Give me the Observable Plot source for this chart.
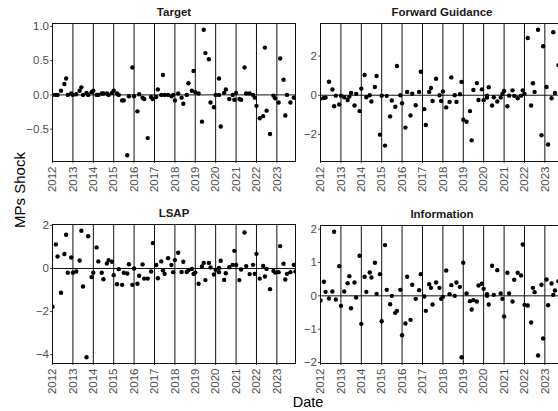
<!DOCTYPE html>
<html><head><meta charset="utf-8">
<script src="https://cdn.jsdelivr.net/npm/d3@7"></script>
<script src="https://cdn.jsdelivr.net/npm/@observablehq/plot@0.6"></script>
<style>
html,body{margin:0;padding:0;background:#fff;overflow:hidden;}
#fig{position:relative;width:566px;height:411px;font-family:"Liberation Sans",Arial,sans-serif;}
#fig > svg{position:absolute;}
</style></head><body><div id="fig"></div>
<script>
// FOMC meeting months (2020 includes the unscheduled March meeting)
const meetingMonths = [
 "2012-01","2012-03","2012-04","2012-06","2012-08","2012-09","2012-10","2012-12",
 "2013-01","2013-03","2013-05","2013-06","2013-07","2013-09","2013-10","2013-12",
 "2014-01","2014-03","2014-04","2014-06","2014-07","2014-09","2014-10","2014-12",
 "2015-01","2015-03","2015-04","2015-06","2015-07","2015-09","2015-10","2015-12",
 "2016-01","2016-03","2016-04","2016-06","2016-07","2016-09","2016-11","2016-12",
 "2017-02","2017-03","2017-05","2017-06","2017-07","2017-09","2017-11","2017-12",
 "2018-01","2018-03","2018-05","2018-06","2018-08","2018-09","2018-11","2018-12",
 "2019-01","2019-03","2019-05","2019-06","2019-07","2019-09","2019-10","2019-12",
 "2020-01","2020-03","2020-03","2020-04","2020-06","2020-07","2020-09","2020-11","2020-12",
 "2021-01","2021-03","2021-04","2021-06","2021-07","2021-09","2021-11","2021-12",
 "2022-01","2022-03","2022-05","2022-06","2022-07","2022-09","2022-11","2022-12",
 "2023-02","2023-03","2023-05","2023-06","2023-07","2023-09","2023-11","2023-12"
];
const yearTicks = ["2012","2013","2014","2015","2016","2017","2018","2019","2020","2021","2022","2023"];

const target = [
 0.00,0.00,0.00,0.06,0.16,0.24,0.00,0.02,
 0.00,0.01,0.06,0.11,0.00,0.03,0.00,0.04,
 0.06,0.00,0.00,0.02,0.02,0.02,0.00,0.03,
 0.06,0.02,0.00,-0.08,-0.08,-0.88,-0.02,0.40,
 -0.02,-0.24,0.01,-0.04,-0.06,-0.63,-0.03,-0.06,
 -0.03,0.08,0.00,0.29,0.00,0.00,-0.02,0.00,
 -0.08,0.02,-0.04,-0.13,0.00,0.17,0.06,0.35,
 0.04,0.02,-0.39,0.95,0.61,0.52,-0.11,-0.18,
 0.00,0.24,0.00,-0.46,0.03,0.08,-0.06,0.00,-0.07,
 0.03,-0.06,-0.07,0.40,0.02,0.02,0.00,-0.04,
 -0.16,-0.34,-0.31,0.69,-0.23,-0.57,-0.01,-0.05,
 -0.11,0.53,0.22,-0.30,0.00,-0.11,-0.04,-0.04
];
const forwardGuidance = [
 -0.17,-0.14,-0.12,0.69,0.29,-0.56,-0.02,-0.47,
 -0.02,-0.10,-0.24,-0.07,0.12,-0.52,0.07,-0.81,
 0.34,1.03,-0.10,0.00,-0.32,0.42,0.98,-2.01,
 -0.02,-2.57,-0.03,-1.08,-0.27,-0.59,1.49,0.00,
 -0.41,-1.65,0.17,-1.03,0.08,-0.51,0.17,1.20,
 -0.71,-1.52,0.17,0.37,-0.29,0.84,0.00,-0.29,
 0.19,-0.62,-0.34,0.91,0.00,-0.34,0.05,0.68,
 -1.25,-1.35,-0.81,-2.30,0.27,0.62,-0.24,0.30,
 -0.25,-0.12,-0.02,0.41,-0.52,-0.10,-0.32,-0.12,0.07,
 0.22,-0.56,-0.02,0.25,-0.03,-0.15,-0.02,0.25,
 0.07,2.92,-0.52,0.61,0.17,3.34,-2.04,2.50,
 0.42,-2.51,-0.15,3.22,0.12,1.54,0.30,-3.06
];
const lsap = [
 -1.78,1.12,0.56,-1.13,0.67,1.57,-0.20,0.51,
 -0.20,-0.14,0.37,1.75,-0.84,-4.12,1.50,-0.40,
 -0.20,0.98,0.33,-0.20,-0.50,0.23,0.39,0.31,
 -0.31,-0.73,-0.03,-0.76,-0.20,-0.23,0.20,-0.76,
 0.00,-0.71,-0.34,0.19,-0.47,-0.47,-0.14,1.18,
 0.16,-0.45,0.33,-0.08,-0.25,0.48,0.16,-0.17,
 0.39,0.73,-0.16,0.31,-0.16,-0.08,-0.02,-0.25,
 -0.19,-0.71,0.09,0.26,-0.54,0.26,0.05,-0.28,
 -0.06,-0.17,0.02,0.36,-0.53,-0.22,0.06,0.17,0.82,
 0.16,-0.54,-0.05,1.67,0.11,-0.26,0.17,-0.25,
 0.68,-0.47,0.12,-0.37,-0.02,-0.96,-0.12,-0.19,
 -0.17,1.04,0.22,-0.51,-0.25,-0.17,0.17,-0.14
];
const information = [
 -0.14,0.42,0.12,-0.08,0.13,1.92,-0.11,0.89,
 -0.30,0.13,0.38,0.59,-0.37,0.40,-0.05,1.20,
 -0.84,0.57,0.12,0.70,0.55,0.99,0.06,0.65,
 -0.76,1.52,0.18,-0.25,0.00,-0.51,-0.45,0.18,
 -1.18,-0.83,0.57,-0.72,0.33,-0.09,0.17,0.65,
 -0.02,-0.45,0.35,0.24,-0.26,0.40,0.24,-0.09,
 -0.03,0.76,0.05,0.32,0.00,0.40,0.27,-1.84,
 0.99,0.07,-0.16,-0.41,-0.13,-0.17,0.31,0.36,
 0.21,0.05,0.00,-0.26,0.90,0.03,0.77,0.07,-0.09,
 -0.62,0.69,0.07,-0.17,0.48,0.69,0.61,1.54,
 -0.27,-0.29,-0.80,0.24,0.11,-1.79,0.33,-1.28,
 0.49,-0.28,0.37,0.03,0.16,0.44,0.20,-0.10
];

const targetTicks = [-0.5, 0, 0.5, 1.0];
const fgTicks = [-2, 0, 2];
const lsapTicks = [-4, -2, 0, 2];
const infoTicks = [-2, -1, 0, 1, 2];
const titles = ["Target", "Forward Guidance", "LSAP", "Information"];

const fig = document.getElementById("fig");
const parseM = d3.utcParse("%Y-%m");
const parseY = d3.utcParse("%Y");
const dates = meetingMonths.map(parseM);
const years = yearTicks.map(parseY);
const xDomain = [dates[0], dates[dates.length - 1]];
const minus = s => s.replace("-", "\u2212");

function panel(title, values, ticks, fmt, left, top, height, mt, mb) {
  const data = values.map((v, i) => ({date: dates[i], value: v}));
  const [lo, hi] = d3.extent(values);
  const pad = (hi - lo) * 0.05;
  const svg = Plot.plot({
    width: 298, height, marginLeft: 52, marginRight: 3, marginTop: mt, marginBottom: mb,
    style: {fontFamily: "'Liberation Sans', Arial, sans-serif", fontSize: "11.5px", color: "#4d4d4d", background: "transparent", overflow: "visible"},
    x: {type: "utc", domain: xDomain, ticks: years, tickFormat: "%Y", tickRotate: -90, tickSize: 2, tickPadding: 3, label: null},
    y: {domain: [lo - pad, hi + pad], ticks, tickFormat: fmt, tickSize: 2, tickPadding: 1.5, label: null},
    marks: [
      Plot.ruleX(years, {stroke: "#111", strokeWidth: 1}),
      Plot.ruleY([0], {stroke: "#111", strokeWidth: 1}),
      Plot.dot(data, {x: "date", y: "value", r: 2.2, fill: "black", stroke: "none", clip: true}),
      Plot.frame({stroke: "#111", strokeWidth: 1}),
      Plot.text([title], {frameAnchor: "top", dy: -8, lineAnchor: "bottom", fontWeight: "bold", fontSize: 11.5, fill: "#1a1a1a"})
    ]
  });
  svg.style.left = left + "px";
  svg.style.top = top + "px";
  fig.appendChild(svg);
}

const fmt1 = d => minus(d.toFixed(1));
const fmt0 = d => minus(String(d));

panel(titles[0], target, targetTicks, fmt1, 0, 0, 200, 23, 39);
panel(titles[1], forwardGuidance, fgTicks, fmt0, 268, 0, 200, 23, 39);
panel(titles[2], lsap, lsapTicks, fmt0, 0, 200, 203, 24, 40);
panel(titles[3], information, infoTicks, fmt0, 268, 200, 203, 25, 40);

// axis titles
const ov = d3.select(fig).append("svg")
  .attr("width", 566).attr("height", 411)
  .style("left", "0px").style("top", "0px").style("pointer-events", "none")
  .style("font-family", "'Liberation Sans', Arial, sans-serif");
ov.append("text").attr("transform", "translate(25,190) rotate(-90)")
  .attr("text-anchor", "middle").attr("font-size", 15).attr("fill", "#000").text("MPs Shock");
ov.append("text").attr("x", 308).attr("y", 407)
  .attr("text-anchor", "middle").attr("font-size", 14.5).attr("fill", "#000").text("Date");
</script>
</body></html>
